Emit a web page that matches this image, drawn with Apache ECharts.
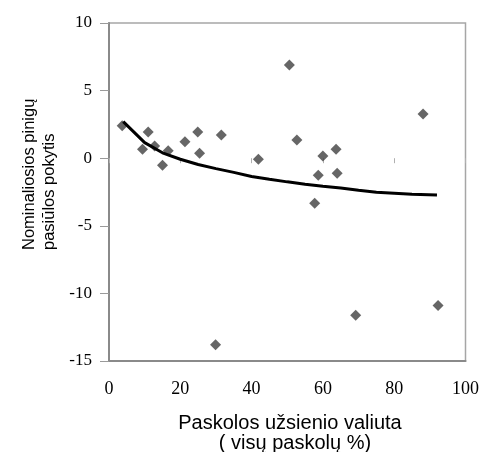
<!DOCTYPE html>
<html>
<head>
<meta charset="utf-8">
<script src="https://cdn.jsdelivr.net/npm/echarts@6/dist/echarts.min.js"></script>
<style>
html,body{margin:0;padding:0;background:#fff;}
#chart{width:482px;height:452px;}
</style>
</head>
<body>
<div id="chart"></div>
<script>
// Scatter points (x: % of loans in foreign currency, y: change in nominal money supply)
var pointX = [3.7, 9.4, 11.0, 12.8, 15.0, 16.6, 21.3, 24.9, 25.4, 29.9, 31.5, 41.9, 50.6, 52.7, 57.7, 58.7, 60.0, 63.7, 64.0, 69.2, 88.1, 92.3];
var pointY = [2.40, 0.66, 1.94, 0.90, -0.53, 0.56, 1.22, 1.94, 0.36, -13.8, 1.72, -0.08, 6.89, 1.35, -3.34, -1.27, 0.16, 0.66, -1.12, -11.62, 3.27, -10.9];
// Trend line
var trendX = [4, 10, 15, 20, 25, 30, 35, 40, 45, 50, 55, 60, 65, 70, 75, 80, 85, 92];
var trendY = [2.7, 1.15, 0.4, -0.08, -0.47, -0.77, -1.05, -1.35, -1.56, -1.75, -1.93, -2.08, -2.2, -2.37, -2.51, -2.59, -2.67, -2.72];
// Axis ticks
var xTicks = [0, 20, 40, 60, 80, 100];
var yTicks = [-15, -10, -5, 0, 5, 10];
var yTitle = ['Nominaliosios pinigų', 'pasiūlos pokytis'];
var xTitle = ['Paskolos užsienio valiuta', '( visų paskolų %)'];

var scatterData = pointX.map(function (x, i) { return [x, pointY[i]]; });
var trendData = trendX.map(function (x, i) { return [x, trendY[i]]; });

var chart = echarts.init(document.getElementById('chart'), null, {renderer: 'canvas'});
var option = {
  animation: false,
  backgroundColor: '#ffffff',
  grid: {left: 109, right: 15, top: 23, bottom: 91, show: true, borderColor: '#a6a6a6', borderWidth: 1.5, containLabel: false},
  xAxis: [{
    type: 'value', min: xTicks[0], max: xTicks[xTicks.length - 1], interval: 20,
    position: 'bottom',
    axisLine: {show: true, onZero: false, lineStyle: {color: '#8a8a8a', width: 2}},
    axisTick: {show: false},
    axisLabel: {margin: 19, color: '#000', fontFamily: 'Liberation Serif', fontSize: 18},
    splitLine: {show: false}
  }, {
    type: 'value', min: xTicks[0], max: xTicks[xTicks.length - 1], interval: 20,
    position: 'bottom',
    axisLine: {show: false, onZero: true},
    axisTick: {show: true, length: 5, lineStyle: {color: '#b0b0b0', width: 1}},
    axisLabel: {show: false},
    splitLine: {show: false}
  }],
  yAxis: {
    type: 'value', min: yTicks[0], max: yTicks[yTicks.length - 1], interval: 5,
    axisLine: {show: true, onZero: false, lineStyle: {color: '#8a8a8a', width: 2}},
    axisTick: {show: true, length: 9, lineStyle: {color: '#9a9a9a', width: 1}},
    axisLabel: {margin: 17, color: '#000', fontFamily: 'Liberation Serif', fontSize: 17},
    splitLine: {show: false}
  },
  graphic: [
    {type: 'text', x: 29, y: 250, rotation: Math.PI / 2,
     style: {text: yTitle[0], font: '16.5px "Liberation Sans"', fill: '#000', textAlign: 'left', textVerticalAlign: 'middle'}},
    {type: 'text', x: 49, y: 250, rotation: Math.PI / 2,
     style: {text: yTitle[1], font: '16.5px "Liberation Sans"', fill: '#000', textAlign: 'left', textVerticalAlign: 'middle'}},
    {type: 'text', x: 290, y: 423,
     style: {text: xTitle[0], font: '20px "Liberation Sans"', fill: '#000', textAlign: 'center', textVerticalAlign: 'middle'}},
    {type: 'text', x: 295, y: 443,
     style: {text: xTitle[1], font: '20px "Liberation Sans"', fill: '#000', textAlign: 'center', textVerticalAlign: 'middle'}}
  ],
  series: [{
    type: 'scatter', xAxisIndex: 0, data: scatterData, symbol: 'diamond', symbolSize: [11, 11],
    itemStyle: {color: '#404040'}, z: 2
  }, {
    type: 'line', xAxisIndex: 0, data: trendData, showSymbol: false, symbol: 'none',
    lineStyle: {color: '#000', width: 3}, z: 3
  }]
};
chart.setOption(option);
</script>
</body>
</html>
